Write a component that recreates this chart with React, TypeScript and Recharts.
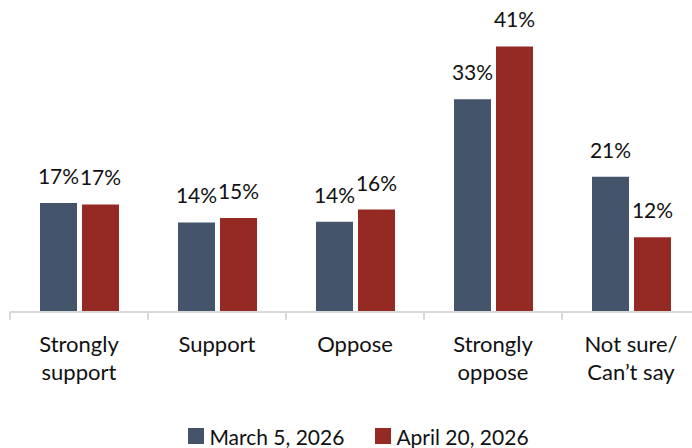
import React from "react";
import { BarChart, Bar, XAxis, YAxis, LabelList, Legend } from "recharts";

const categories = ["Strongly support", "Support", "Oppose", "Strongly oppose", "Not sure/ Can’t say"];
const categoryLines = [["Strongly", "support"], ["Support"], ["Oppose"], ["Strongly", "oppose"], ["Not sure/", "Can’t say"]];
const march5 = [16.9, 13.9, 14.0, 33.0, 21.0];
const april20 = [16.7, 14.6, 15.9, 41.2, 11.6];
const seriesNames = ["March 5, 2026", "April 20, 2026"];
const seriesColors = ["#44546A", "#952923"];

const data = categories.map((c, i) => ({ name: c, lines: categoryLines[i], march: march5[i], april: april20[i] }));

const FONT = "Lato, 'Open Sans', sans-serif";
const TEXT = "#111111";

const pct = (v: any) => `${Math.round(Number(v))}%`;

const Tick = (props: any) => {
  const { x, y, payload, index } = props;
  const half = payload && payload.offset ? payload.offset : 69;
  const lines = categoryLines[index] || [String(payload.value)];
  const axisY = y - 10;
  return (
    <g>
      <line x1={x - half} x2={x - half} y1={axisY} y2={axisY + 8} stroke="#D9D9D9" strokeWidth={2} />
      {index === categories.length - 1 && (
        <line x1={x + half} x2={x + half} y1={axisY} y2={axisY + 8} stroke="#D9D9D9" strokeWidth={2} />
      )}
      <text x={x} y={axisY} textAnchor="middle" fill={TEXT} fontSize={22} fontFamily={FONT}>
        {lines.map((l: string, i: number) => (
          <tspan key={i} x={x} dy={i === 0 ? 40 : 28}>{l}</tspan>
        ))}
      </text>
    </g>
  );
};

const LegendContent = () => (
  <div style={{ display: "flex", justifyContent: "center", alignItems: "center", height: 24, paddingLeft: 7, fontFamily: FONT, fontSize: 21, color: TEXT }}>
    {seriesNames.map((n, i) => (
      <div key={n} style={{ display: "flex", alignItems: "center", marginRight: i === 0 ? 31 : 0 }}>
        <span style={{ display: "inline-block", width: 16, height: 16, background: seriesColors[i], marginRight: 5 }} />
        <span>{n}</span>
      </div>
    ))}
  </div>
);

export default function App() {
  return (
    <div style={{ position: "absolute", left: 0, top: 0, width: 692, height: 448, overflow: "hidden", background: "#fff" }}>
      <BarChart width={700} height={448} data={data} margin={{ top: 22, right: 0, left: 10, bottom: 0 }} barGap={5} barSize={37}>
        <XAxis dataKey="name" height={112} tickLine={false} axisLine={{ stroke: "#D9D9D9", strokeWidth: 2 }} tickSize={8} tickMargin={2} tick={<Tick />} interval={0} />
        <YAxis hide domain={[0, 45]} />
        <Legend verticalAlign="bottom" height={24} content={<LegendContent />} />
        <Bar dataKey="march" name={seriesNames[0]} fill={seriesColors[0]} isAnimationActive={false}>
          <LabelList dataKey="march" position="top" offset={19} formatter={pct} fill={TEXT} fontSize={21} fontFamily={FONT} />
        </Bar>
        <Bar dataKey="april" name={seriesNames[1]} fill={seriesColors[1]} isAnimationActive={false}>
          <LabelList dataKey="april" position="top" offset={19} formatter={pct} fill={TEXT} fontSize={21} fontFamily={FONT} />
        </Bar>
      </BarChart>
    </div>
  );
}
